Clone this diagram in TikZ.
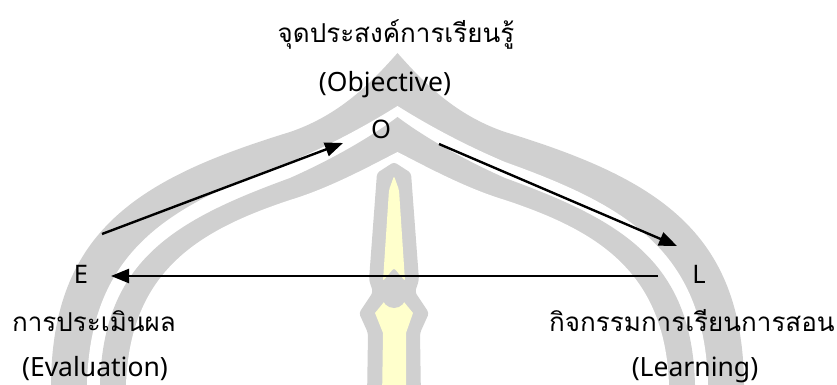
\documentclass[tikz,border=0pt]{standalone}
\usepackage{fontspec}
\newfontfamily\thaifont[Script=Thai]{Loma}
\newfontfamily\latinfont{Noto Sans}
\usetikzlibrary{arrows.meta}
\definecolor{archgray}{RGB}{208,208,208}
\definecolor{spireyellow}{RGB}{255,255,204}

\begin{document}
\begin{tikzpicture}[x=1pt,y=-1pt,
  thai/.style={font=\thaifont\fontsize{26}{30}\selectfont, anchor=base, inner sep=0pt},
  latin/.style={font=\latinfont\fontsize{26.5}{30}\selectfont, anchor=base, inner sep=0pt},
  letter/.style={font=\latinfont\fontsize{25.5}{28}\selectfont, anchor=base, inner sep=0pt},
  link/.style={draw=black, line width=2.4pt, -{Triangle[length=18pt,width=14pt]}}]

\useasboundingbox (0,0) rectangle (837,385);

% emblem behind the diagram: two nested arches and a spire
\begin{scope}
  \clip (0,0) rectangle (837,385);
  \fill[archgray] (50,400) -- (51,385) .. controls (52,230) and (140,178) .. (290,132)
     .. controls (340,115) and (372,82) .. (397.5,53)
     .. controls (423,82) and (455,115) .. (505,132)
     .. controls (655,178) and (743,230) .. (744,385) -- (745,400) -- cycle;
  \fill[white] (86,400) -- (87,385) .. controls (90,250) and (170,205) .. (290,162)
     .. controls (335,143) and (372,122) .. (397.5,106)
     .. controls (423,122) and (460,143) .. (505,162)
     .. controls (625,205) and (705,250) .. (708,385) -- (709,400) -- cycle;
  \fill[archgray] (99,400) -- (100,385) .. controls (103,260) and (175,220) .. (290,178)
     .. controls (335,158) and (372,136) .. (397.5,117)
     .. controls (423,136) and (460,158) .. (505,178)
     .. controls (620,220) and (692,260) .. (695,385) -- (696,400) -- cycle;
  \fill[white] (125,400) -- (126,385) .. controls (130,270) and (200,230) .. (290,200)
     .. controls (330,188) and (370,166) .. (397.5,152)
     .. controls (425,166) and (465,188) .. (505,200)
     .. controls (595,230) and (665,270) .. (669,385) -- (670,400) -- cycle;
  % spire
  \fill[archgray, rounded corners=3pt] (394,162) -- (411,173) -- (419,280) -- (415,292)
     -- (429,313) -- (420,333) -- (421,400) -- (367,400) -- (368,333) -- (359,313)
     -- (373,292) -- (369,280) -- (377,173) -- cycle;
  \fill[spireyellow, rounded corners=2pt] (394,176) -- (399,190) -- (405,281) -- (394,268)
     -- (383,281) -- (389,190) -- cycle;
  \fill[spireyellow] (384,302) -- (375,313) -- (383,333) -- (382,400) -- (406,400)
     -- (406,333) -- (413,313) -- (404,302) -- cycle;
  \fill[archgray] (394,296) circle[radius=12];
\end{scope}

% labels
\node[thai] (objth) at (396,43) {จุดประสงค์การเรียนรู้};
\node[latin] (objen) at (385,92) {(Objective)};
\node[letter] (O) at (381,138) {O};
\node[letter] (E) at (81,283) {E};
\node[letter] (L) at (699,283) {L};
\node[thai] (evalth) at (94,331) {การประเมินผล};
\node[latin] (evalen) at (95,376) {(Evaluation)};
\node[thai] (learnth) at (692,331) {กิจกรรมการเรียนการสอน};
\node[latin] (learnen) at (695,376) {(Learning)};

% arrow end points around the letters
\coordinate (eo-from) at (102,234);
\coordinate (eo-to) at (343,143);
\coordinate (ol-from) at (439,144);
\coordinate (ol-to) at (677,246);
\coordinate (le-from) at (658,276);
\coordinate (le-to) at (111,276);

\draw[link] (eo-from) -- (eo-to);
\draw[link] (ol-from) -- (ol-to);
\draw[link] (le-from) -- (le-to);
\end{tikzpicture}
\end{document}
